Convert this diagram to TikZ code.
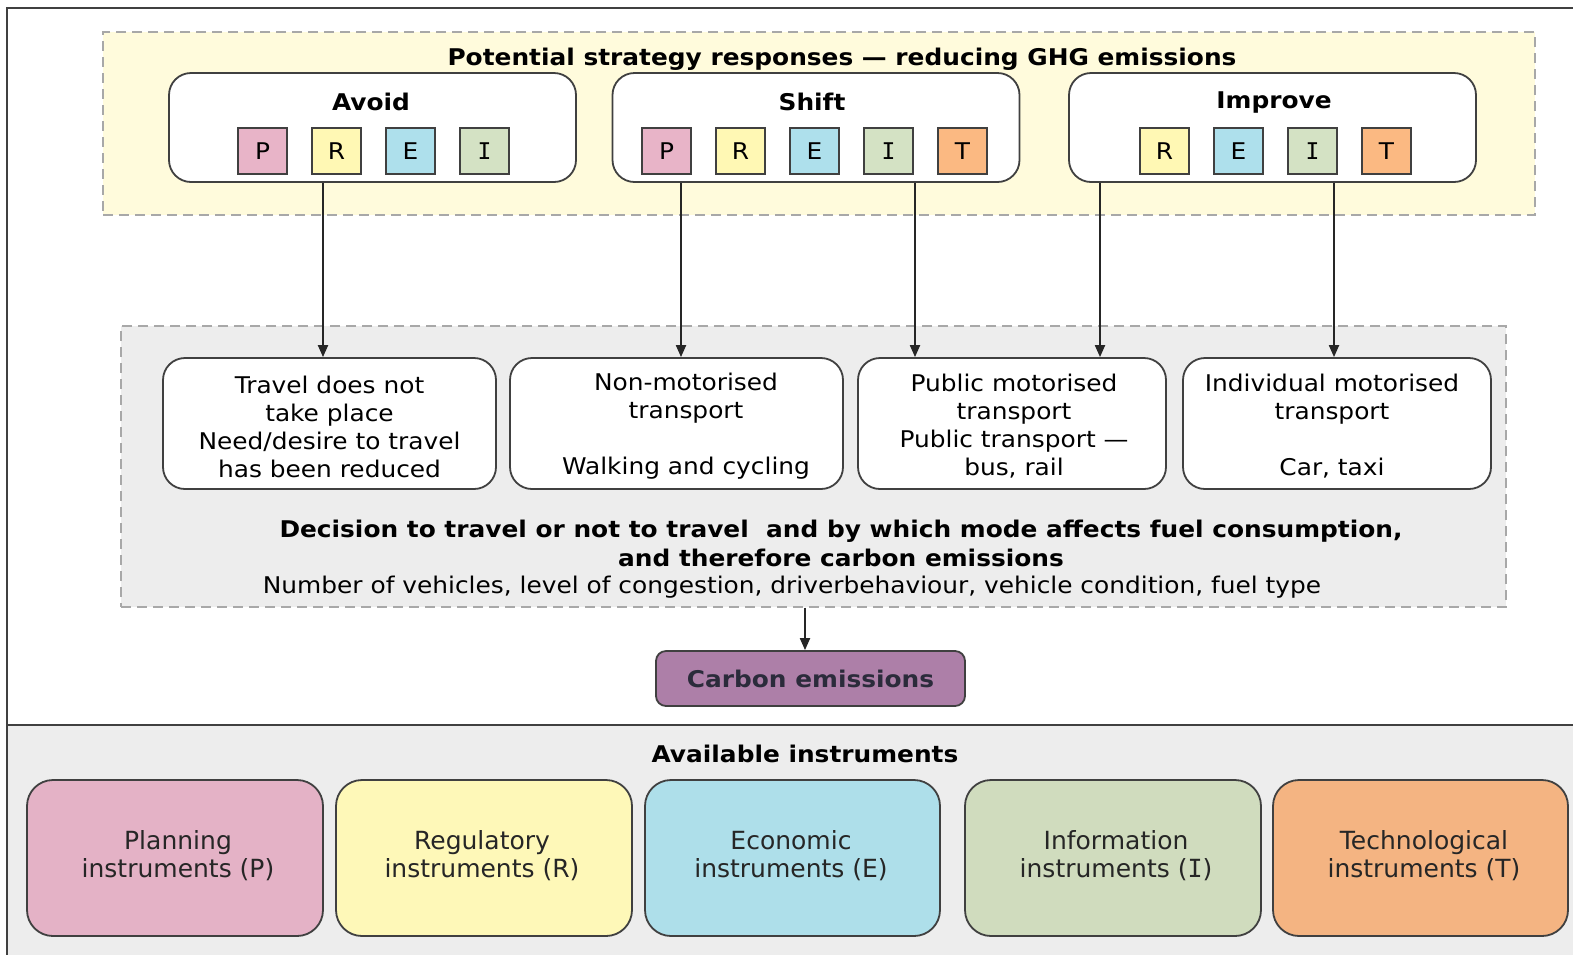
\documentclass[tikz,border=0pt]{standalone}
\usepackage{fontspec}
\setmainfont[FakeStretch=1.08]{DejaVu Sans}
\newfontfamily\instfont{DejaVu Sans}
\newfontfamily\ifont{DejaVu Sans Mono}
\newcommand{\serifI}{{\ifont I}}
\usetikzlibrary{arrows.meta}
\definecolor{yelbg}{HTML}{FFFBDC}
\definecolor{midgray}{HTML}{EDEDED}
\definecolor{dashgray}{HTML}{A8A8A8}
\definecolor{bordc}{HTML}{404040}
\definecolor{sqP}{HTML}{E8B4C8}
\definecolor{sqR}{HTML}{FFF8B4}
\definecolor{sqE}{HTML}{AEE0EC}
\definecolor{sqI}{HTML}{D4E2C4}
\definecolor{sqT}{HTML}{FBB982}
\definecolor{inP}{HTML}{E4B2C6}
\definecolor{inR}{HTML}{FEF8B8}
\definecolor{inE}{HTML}{AEDFEA}
\definecolor{inI}{HTML}{D0DCBE}
\definecolor{inT}{HTML}{F4B482}
\definecolor{carbc}{HTML}{AD7FA8}
\definecolor{carbtxt}{HTML}{2B2B3B}
\begin{document}
\begin{tikzpicture}[x=0.5pt,y=-0.5pt,
  txt/.style={font=\fontsize{11.5}{14}\selectfont, align=center, inner sep=0pt},
  btxt/.style={font=\fontsize{11.5}{14.5}\selectfont\bfseries, align=center, inner sep=0pt},
  dashbox/.style={draw=dashgray, line width=0.7pt, dash pattern=on 5pt off 3pt, inner sep=0pt},
  strat/.style={draw=bordc, line width=0.9pt, rounded corners=11pt, fill=white, minimum width=203.5pt, minimum height=54.5pt, inner sep=0pt},
  sq/.style={draw=bordc, line width=0.8pt, minimum width=24.5pt, minimum height=23pt, inner sep=0pt, font=\fontsize{11.5}{14}\selectfont},
  mode/.style={draw=bordc, line width=0.9pt, rounded corners=11pt, fill=white, minimum height=65.5pt, inner sep=0pt},
  inst/.style={draw=bordc, line width=0.9pt, rounded corners=13pt, minimum width=148pt, minimum height=78pt, inner sep=0pt},
  insttxt/.style={font=\instfont\fontsize{12.5}{14}\selectfont, align=center, inner sep=0pt, text=black!85},
  arr/.style={draw=black!85, line width=1pt, -{Triangle[length=6pt,width=5pt]}},
  frame/.style={draw=bordc, line width=1pt}
]
\useasboundingbox (0,0) rectangle (1573,955);
\fill[white] (0,0) rectangle (1573,955);
\fill[midgray] (7,725) rectangle (1573,955);
\draw[frame] (1573,8) -- (7,8) -- (7,955);
\draw[frame] (7,725) -- (1573,725);

% top strategy region
\node[dashbox, fill=yelbg, minimum width=716pt, minimum height=91.5pt] (potential) at (819,123.5) {};
\node[btxt] (ptitle) at (842,59) {Potential strategy responses — reducing GHG emissions};

\node[strat] (avoid) at (372.5,127.5) {};
\node[strat] (shift) at (816,127.5) {};
\node[strat] (improve) at (1272.5,127.5) {};
\node[btxt] (avoidt) at (371,102) {Avoid};
\node[btxt] (shiftt) at (812,102) {Shift};
\node[btxt] (improvet) at (1274,102) {Improve};

\node[sq, fill=sqP] (aP) at (262.5,151) {P};
\node[sq, fill=sqR] (aR) at (336.5,151) {R};
\node[sq, fill=sqE] (aE) at (410.5,151) {E};
\node[sq, fill=sqI] (aI) at (484.5,151) {\serifI};

\node[sq, fill=sqP] (sP) at (666.5,151) {P};
\node[sq, fill=sqR] (sR) at (740.5,151) {R};
\node[sq, fill=sqE] (sE) at (814.5,151) {E};
\node[sq, fill=sqI] (sI) at (888.5,151) {\serifI};
\node[sq, fill=sqT] (sT) at (962.5,151) {T};

\node[sq, fill=sqR] (iR) at (1164.5,151) {R};
\node[sq, fill=sqE] (iE) at (1238.5,151) {E};
\node[sq, fill=sqI] (iI) at (1312.5,151) {\serifI};
\node[sq, fill=sqT] (iT) at (1386.5,151) {T};

% middle region
\node[dashbox, fill=midgray, minimum width=692.5pt, minimum height=140.5pt] (midbox) at (813.5,466.5) {};

\node[mode, minimum width=166.5pt] (travel) at (329.5,423.5) {};
\node[mode, minimum width=166.5pt] (nonmot) at (676.5,423.5) {};
\node[mode, minimum width=154pt] (public) at (1012,423.5) {};
\node[mode, minimum width=154pt] (indiv) at (1337,423.5) {};
\node[txt] (travelt) at (329.5,426.5) {Travel does not\\take place\\Need/desire to travel\\has been reduced};
\node[txt] (nonmott) at (686,426.5) {Non-motorised\\transport\\\mbox{}\\Walking and cycling};
\node[txt] (publict) at (1014,426.5) {Public motorised\\transport\\Public transport —\\bus, rail};
\node[txt] (indivt) at (1332,426.5) {Individual motorised\\transport\\\mbox{}\\Car, taxi};

\draw[arr] (avoid.south -| 323,0) -- (travel.north -| 323,0);
\draw[arr] (shift.south -| 681,0) -- (nonmot.north -| 681,0);
\draw[arr] (shift.south -| 915,0) -- (public.north -| 915,0);
\draw[arr] (improve.south -| 1100,0) -- (public.north -| 1100,0);
\draw[arr] (improve.south -| 1334,0) -- (indiv.north -| 1334,0);

\node[btxt] (decision) at (841,543.5) {Decision to travel or not to travel \ and by which mode affects fuel consumption,\\and therefore carbon emissions};
\node[txt] (factors) at (792,587) {Number of vehicles, level of congestion, driverbehaviour, vehicle condition, fuel type};

\node[draw=bordc, line width=0.9pt, rounded corners=5pt, fill=carbc, minimum width=154.5pt, minimum height=27.5pt, inner sep=0pt, font=\fontsize{11.5}{14}\selectfont\bfseries, text=carbtxt] (carbon) at (810.5,678.5) {Carbon emissions};
\draw[arr] (midbox.south -| 805,0) -- (carbon.north -| 805,0);

% instruments
\node[btxt] (avail) at (805,754) {Available instruments};
\node[inst, fill=inP] (instP) at (175,858) {};
\node[inst, fill=inR] (instR) at (484,858) {};
\node[inst, fill=inE, minimum width=147.5pt] (instE) at (792.5,858) {};
\node[inst, fill=inI] (instI) at (1113,858) {};
\node[inst, fill=inT, minimum width=147.5pt] (instT) at (1420.5,858) {};
\node[insttxt] (tP) at (178,856) {Planning\\instruments (P)};
\node[insttxt] (tR) at (482,856) {Regulatory\\instruments (R)};
\node[insttxt] (tE) at (791,856) {Economic\\instruments (E)};
\node[insttxt] (tI) at (1116,856) {Information\\instruments ({\ifont I})};
\node[insttxt] (tT) at (1424,856) {Technological\\instruments (T)};
\end{tikzpicture}
\end{document}
